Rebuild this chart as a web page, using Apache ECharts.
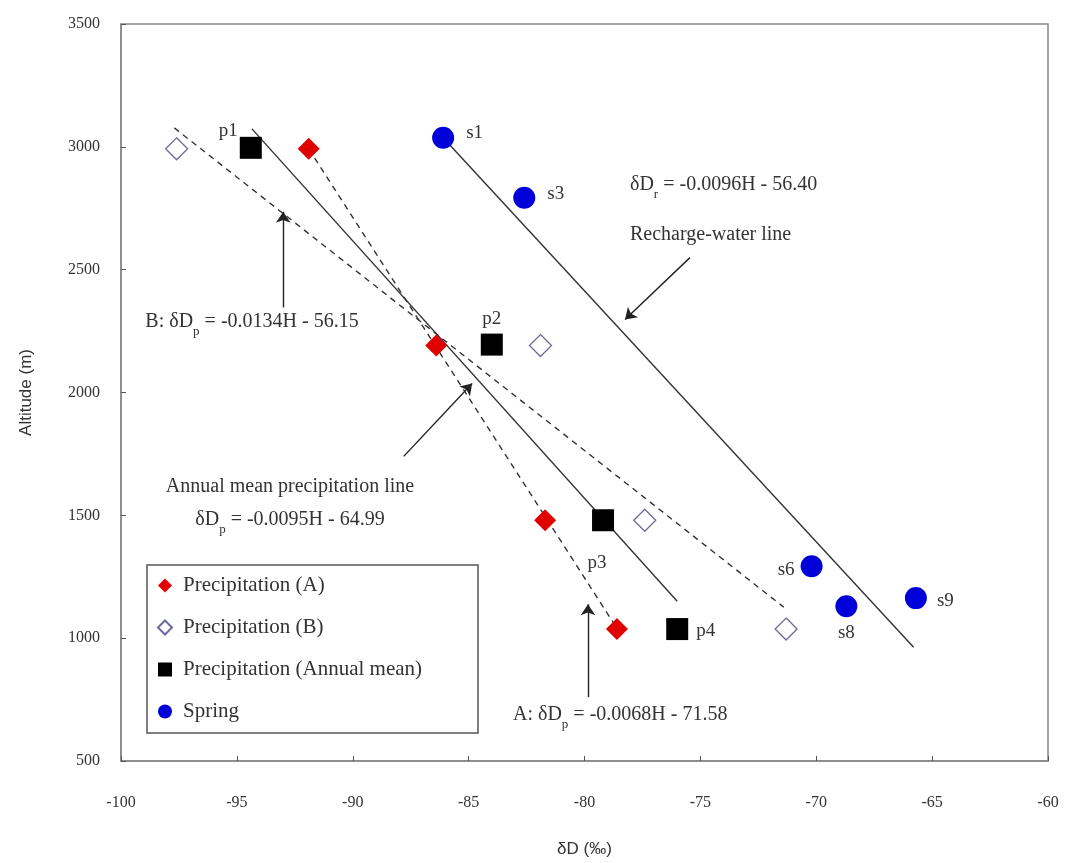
<!DOCTYPE html>
<html>
<head>
<meta charset="utf-8">
<script src="https://cdn.jsdelivr.net/npm/echarts@6/dist/echarts.min.js"></script>
<style>
  html, body { margin: 0; padding: 0; background: #fff; }
  #chart { width: 1068px; height: 863px; }
</style>
</head>
<body>
<div id="chart"></div>
<script>
// values
const precipAX = [-91.9, -86.4, -81.7, -78.6]
const precipAY = [2992, 2191, 1480, 1037]
const precipBX = [-97.6, -81.9, -77.4, -71.3]
const precipBY = [2992, 2191, 1480, 1037]
const annualX = [-94.4, -84.0, -79.2, -76.0]
const annualY = [2996, 2195, 1480, 1037]
const annualNames = ['p1', 'p2', 'p3', 'p4']
const springX = [-86.1, -82.6, -70.2, -68.7, -65.7]
const springY = [3037, 2793, 1293, 1130, 1163]
const springNames = ['s1', 's3', 's6', 's8', 's9']

// fitted lines, two ends each [δD, H]
const rechargeLine = [[-86.1, 3037], [-65.8, 963]]
const annualLine = [[-94.35, 3073], [-76.0, 1150]]
const lineA = [[-91.9, 2992], [-78.6, 1040]]
const lineB = [[-97.7, 3077], [-71.4, 1126]]

// annotation arrows, [from, to]
const arrows = [
  [[-93.0, 2346], [-93.0, 2736]],
  [[-75.45, 2549], [-78.25, 2297]],
  [[-87.8, 1740], [-84.85, 2037]],
  [[-79.85, 760], [-79.85, 1138]]
]

const xTicks = { min: -100, max: -60, interval: 5 }
const yTicks = { min: 500, max: 3500, interval: 500 }

const serif = '"Liberation Serif", "DejaVu Serif", serif'
const narrow = '"Liberation Sans Narrow", "Liberation Sans", sans-serif'

const annualLabelPos = [
  { position: 'left', distance: 2, offset: [0, -17] },
  { position: 'top', distance: 5, offset: [0, 0] },
  { position: 'bottom', distance: 22, offset: [-6, 0] },
  { position: 'right', distance: 8, offset: [0, 2] }
]
const springLabelPos = [
  { position: 'right', distance: 12, offset: [0, -5] },
  { position: 'right', distance: 12, offset: [0, -4] },
  { position: 'left', distance: 6, offset: [0, 4] },
  { position: 'bottom', distance: 6, offset: [0, 0] },
  { position: 'right', distance: 10, offset: [0, 3] }
]

const zip = (xs, ys) => xs.map((x, i) => [x, ys[i]])

const pointLabel = (names, pos) => (xs, ys) => xs.map((x, i) => ({
  value: [x, ys[i]],
  name: names[i],
  label: Object.assign({
    show: true,
    formatter: '{b}',
    color: '#333',
    fontFamily: serif,
    fontSize: 19
  }, pos[i])
}))

const fitLine = (data, type) => ({
  type: 'line',
  data: data,
  symbol: 'none',
  silent: true,
  z: 1,
  lineStyle: { color: '#333', width: 1.4, type: type }
})

const richEq = {
  n: { fontSize: 20, fontFamily: serif, color: '#333', lineHeight: 22, verticalAlign: 'top' },
  sub: { fontSize: 13, fontFamily: serif, color: '#333', lineHeight: 13, padding: [13, 0, 0, 0], verticalAlign: 'top' }
}

const label = (x, y, text, align) => ({
  type: 'text',
  x: x,
  y: y,
  z: 10,
  style: {
    text: text,
    rich: richEq,
    fontSize: 20,
    fontFamily: serif,
    fill: '#333',
    align: align || 'center',
    verticalAlign: 'middle'
  }
})

const chart = echarts.init(document.getElementById('chart'))
chart.setOption({
  animation: false,
  backgroundColor: '#fff',
  grid: {
    left: 121,
    right: 20,
    top: 24,
    bottom: 101,
    show: true,
    borderColor: '#888',
    borderWidth: 1.5
  },
  legend: {
    orient: 'vertical',
    left: 157,
    top: 575,
    itemGap: 21,
    itemWidth: 14,
    itemHeight: 14,
    padding: 0,
    data: ['Precipitation (A)', 'Precipitation (B)', 'Precipitation (Annual mean)', 'Spring'],
    textStyle: { fontFamily: serif, fontSize: 21, color: '#333', padding: [0, 0, 0, 6] }
  },
  xAxis: {
    type: 'value',
    min: xTicks.min,
    max: xTicks.max,
    interval: xTicks.interval,
    name: 'δD (‰)',
    nameLocation: 'middle',
    nameGap: 80,
    nameTextStyle: { fontFamily: narrow, fontSize: 17, color: '#333' },
    axisLine: { lineStyle: { color: '#888', width: 1.5 } },
    axisTick: { inside: true, length: 5, lineStyle: { color: '#555' } },
    axisLabel: { margin: 34, fontFamily: serif, fontSize: 16, color: '#333', formatter: v => String(v) },
    splitLine: { show: false }
  },
  yAxis: {
    type: 'value',
    min: yTicks.min,
    max: yTicks.max,
    interval: yTicks.interval,
    name: 'Altitude (m)',
    nameLocation: 'middle',
    nameGap: 86,
    nameTextStyle: { fontFamily: narrow, fontSize: 17, color: '#333' },
    axisLine: { lineStyle: { color: '#888', width: 1.5 } },
    axisTick: { inside: true, length: 5, lineStyle: { color: '#555' } },
    axisLabel: { margin: 21, fontFamily: serif, fontSize: 16, color: '#333', formatter: v => String(v) },
    splitLine: { show: false }
  },
  graphic: [
    {
      type: 'rect',
      shape: { x: 147, y: 565, width: 331, height: 168 },
      style: { fill: '#fff', stroke: '#555', lineWidth: 1.5 },
      z: 0
    },
    label(252, 323, '{n|B: δD}{sub|p}{n| = -0.0134H - 56.15}'),
    label(630, 186, '{n|δD}{sub|r}{n| = -0.0096H - 56.40}', 'left'),
    label(630, 235, 'Recharge-water line', 'left'),
    label(290, 487, 'Annual mean precipitation line'),
    label(290, 521, '{n|δD}{sub|p}{n| = -0.0095H - 64.99}'),
    label(513, 716, '{n|A: δD}{sub|p}{n| = -0.0068H - 71.58}', 'left')
  ],
  series: [
    fitLine(rechargeLine, 'solid'),
    fitLine(annualLine, 'solid'),
    fitLine(lineA, [6, 5]),
    fitLine(lineB, [6, 5]),
    {
      type: 'line',
      data: [],
      silent: true,
      markLine: {
        silent: true,
        symbol: ['none', 'arrow'],
        symbolSize: 11,
        label: { show: false },
        lineStyle: { color: '#222', width: 1.4, type: 'solid' },
        data: arrows.map(a => [{ coord: a[0] }, { coord: a[1] }])
      }
    },
    {
      name: 'Precipitation (A)',
      type: 'scatter',
      symbol: 'diamond',
      symbolSize: 22,
      z: 5,
      itemStyle: { color: '#e00000', opacity: 1 },
      data: zip(precipAX, precipAY)
    },
    {
      name: 'Precipitation (B)',
      type: 'scatter',
      symbol: 'diamond',
      symbolSize: 22,
      z: 5,
      itemStyle: { color: '#fff', borderColor: '#6a6aa0', borderWidth: 1.3, opacity: 1 },
      data: zip(precipBX, precipBY)
    },
    {
      name: 'Precipitation (Annual mean)',
      type: 'scatter',
      symbol: 'rect',
      symbolSize: 22,
      z: 5,
      itemStyle: { color: '#000', opacity: 1 },
      data: pointLabel(annualNames, annualLabelPos)(annualX, annualY)
    },
    {
      name: 'Spring',
      type: 'scatter',
      symbol: 'circle',
      symbolSize: 22,
      z: 5,
      itemStyle: { color: '#0000d8', opacity: 1 },
      data: pointLabel(springNames, springLabelPos)(springX, springY)
    }
  ]
})
</script>
</body>
</html>
